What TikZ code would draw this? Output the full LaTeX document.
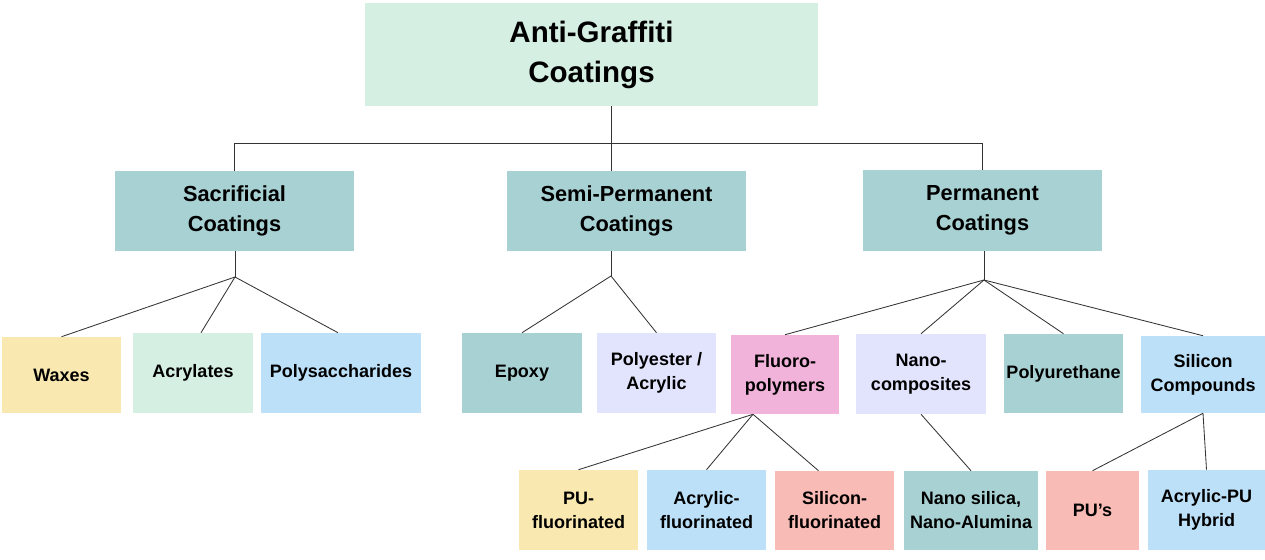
\documentclass[tikz,border=0pt]{standalone}
\usepackage{fontspec}
\setmainfont{Liberation Sans}
\usetikzlibrary{calc}
\definecolor{mint}{HTML}{D5EFE3}
\definecolor{teal}{HTML}{A8D1D3}
\definecolor{sand}{HTML}{F9E9B1}
\definecolor{sky}{HTML}{BCE0F8}
\definecolor{lilac}{HTML}{E2E3FC}
\definecolor{rose}{HTML}{F2B3DB}
\definecolor{salmon}{HTML}{F9BBB5}
\definecolor{wire}{HTML}{333333}

\begin{document}
\begin{tikzpicture}[x=0.025cm, y=-0.025cm,
		box/.style 2 args={rectangle, inner sep=0pt, align=center, minimum width=#1*0.025cm, minimum height=#2*0.025cm, font=\bfseries\fontsize{12.8}{17}\selectfont},
		group/.style={box={239}{80}, fill=teal, font=\bfseries\fontsize{15.5}{21}\selectfont},
		link/.style={draw=wire, line width=0.6pt}]
		\useasboundingbox (0,0) rectangle (1265,560);
		
		\node [box={453}{103}, fill=mint, font=\bfseries\fontsize{21}{28.5}\selectfont] (title) at (591.5,54.5) {Anti-Graffiti\\Coatings};
		
		\node [group] (sac) at (234.5,211) {Sacrificial\\Coatings};
		\node [group] (semi) at (626.5,211) {Semi-Permanent\\Coatings};
		\node [group, minimum height=81*0.025cm] (perm) at (982.5,210.5) {Permanent\\Coatings};
		
		\node [box={119}{76}, fill=sand] (waxes) at (61.5,375) {Waxes};
		\node [box={120}{80}, fill=mint] (acryl) at (193,373) {Acrylates};
		\node [box={160}{80}, fill=sky] (poly) at (341,373) {Polysaccharides};
		
		\node [box={120}{80}, fill=teal] (epoxy) at (522,373) {Epoxy};
		\node [box={119}{80}, fill=lilac] (polyac) at (656.5,373) {Polyester /\\Acrylic};
		
		\node [box={108}{79}, fill=rose] (fluoro) at (785,374.5) {Fluoro-\\polymers};
		\node [box={130}{80}, fill=lilac] (nanoc) at (921,374) {Nano-\\composites};
		\node [box={119}{79}, fill=teal] (pur) at (1063.5,373.5) {Polyurethane};
		\node [box={124}{77}, fill=sky] (sic) at (1203,374.5) {Silicon\\Compounds};
		
		\node [box={119}{80}, fill=sand] (pufl) at (578.5,510) {PU-\\fluorinated};
		\node [box={119}{80}, fill=sky] (acfl) at (706.5,510) {Acrylic-\\fluorinated};
		\node [box={119}{79}, fill=salmon] (sifl) at (834.5,510.5) {Silicon-\\fluorinated};
		\node [box={134}{79}, fill=teal] (nanos) at (971,510.5) {Nano silica,\\Nano-Alumina};
		\node [box={93}{79}, fill=salmon] (pus) at (1092.5,510.5) {PU’s};
		\node [box={117}{80}, fill=sky] (acpu) at (1206.5,510) {Acrylic-PU\\Hybrid};
		
		\coordinate (trunk) at (611,143);
		\coordinate (sachub) at (235,277);
		\coordinate (semihub) at (611,276);
		\coordinate (permhub) at (984,280);
		\coordinate (fluorohub) at ($(fluoro.south)+(-32,0)$);
		
		\draw [link] (title.south -| trunk) -- (semi.north -| trunk);
		\draw [link] (sac.north) -- (sac.north |- trunk) -- (perm.north |- trunk) -- (perm.north);
		
		\draw [link] (sac.south -| sachub) -- (sachub);
		\draw [link] (sachub) -- (waxes.north);
		\draw [link] (sachub) -- ($(acryl.north)+(8,0)$);
		\draw [link] (sachub) -- ($(poly.north)+(-3,0)$);
		
		\draw [link] (semi.south -| semihub) -- (semihub);
		\draw [link] (semihub) -- (epoxy.north);
		\draw [link] (semihub) -- (polyac.north);
		
		\draw [link] (perm.south -| permhub) -- (permhub);
		\draw [link] (permhub) -- (fluoro.north);
		\draw [link] (permhub) -- (nanoc.north);
		\draw [link] (permhub) -- (pur.north);
		\draw [link] (permhub) -- (sic.north);
		
		\draw [link] (fluorohub) -- (pufl.north);
		\draw [link] (fluorohub) -- (acfl.north);
		\draw [link] (fluorohub) -- ($(sifl.north)+(-16,0)$);
		
		\draw [link] (nanoc.south) -- (nanos.north);
		
		\draw [link] (sic.south) -- (pus.north);
		\draw [link] (sic.south) -- (acpu.north);
	\end{tikzpicture}
\end{document}
